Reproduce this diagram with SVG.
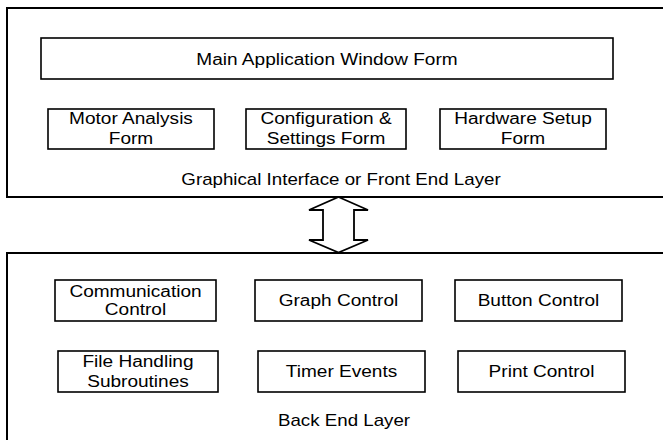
<svg xmlns="http://www.w3.org/2000/svg" width="663" height="440" viewBox="0 0 663 440">
<style>
.frame{fill:#fff;stroke:#000;stroke-width:2}
.box{fill:#fff;stroke:#000;stroke-width:1.6}
text{font-family:"Liberation Sans",Arial,sans-serif;font-size:16px;fill:#000;text-anchor:middle}
</style>
<rect width="663" height="440" fill="#fff"/>
<g id="frontend">
<rect class="frame" x="7" y="8" width="700" height="189"/>
<text transform="translate(341,185) scale(1.17,1)">Graphical Interface or Front End Layer</text>
</g>
<g id="backend">
<rect class="frame" x="7" y="253" width="700" height="200"/>
<text transform="translate(344,426) scale(1.17,1)">Back End Layer</text>
</g>
<g id="connectors">
<path d="M338.5,197 L368,210 L354,210 L354,240 L368,240 L338.5,252.5 L309,240 L323,240 L323,210 L309,210 Z" fill="#fff" stroke="#000" stroke-width="1.8" stroke-linejoin="miter"/>
</g>
<g id="main">
<rect class="box" x="41" y="38" width="572" height="41"/>
<text transform="translate(327,65) scale(1.19,1)">Main Application Window Form</text>
</g>
<g id="motor">
<rect class="box" x="48" y="109" width="166" height="40"/>
<text transform="translate(131,124) scale(1.19,1)">Motor Analysis</text>
<text transform="translate(131,144) scale(1.19,1)">Form</text>
</g>
<g id="config">
<rect class="box" x="246" y="109" width="160" height="40"/>
<text transform="translate(326,124) scale(1.19,1)">Configuration &amp;</text>
<text transform="translate(326,144) scale(1.19,1)">Settings Form</text>
</g>
<g id="hardware">
<rect class="box" x="440" y="109" width="166" height="40"/>
<text transform="translate(523,124) scale(1.19,1)">Hardware Setup</text>
<text transform="translate(523,144) scale(1.19,1)">Form</text>
</g>
<g id="comm">
<rect class="box" x="55" y="280" width="161" height="41"/>
<text transform="translate(135.5,296.5) scale(1.19,1)">Communication</text>
<text transform="translate(135.5,315) scale(1.19,1)">Control</text>
</g>
<g id="graph">
<rect class="box" x="255" y="280" width="167" height="41"/>
<text transform="translate(338.5,306) scale(1.19,1)">Graph Control</text>
</g>
<g id="button">
<rect class="box" x="455" y="280" width="167" height="41"/>
<text transform="translate(538.5,306) scale(1.19,1)">Button Control</text>
</g>
<g id="file">
<rect class="box" x="58" y="351" width="160" height="41"/>
<text transform="translate(138,367) scale(1.19,1)">File Handling</text>
<text transform="translate(138,386.5) scale(1.19,1)">Subroutines</text>
</g>
<g id="timer">
<rect class="box" x="258" y="351" width="167" height="41"/>
<text transform="translate(341.5,377) scale(1.19,1)">Timer Events</text>
</g>
<g id="print">
<rect class="box" x="458" y="351" width="167" height="41"/>
<text transform="translate(541.5,377) scale(1.19,1)">Print Control</text>
</g>
</svg>
